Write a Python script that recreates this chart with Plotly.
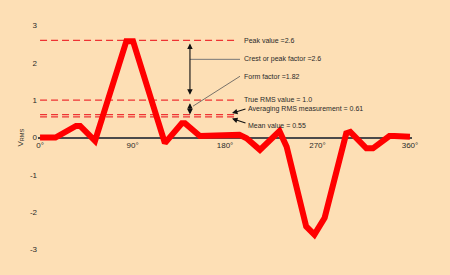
import plotly.graph_objects as go

# ---- data ----
angles = [0, 15, 35, 39, 53.5, 84, 90.5, 121.5, 138, 141, 155.5, 165, 194, 201,
          214, 233, 240, 259, 267, 277, 291.6, 298, 302, 317.6, 324, 340, 345, 350, 360]
volts = [0, 0, 0.31, 0.31, -0.09, 2.58, 2.58, -0.15, 0.38, 0.38, 0.04, 0.04, 0.07, -0.02,
         -0.33, 0.17, -0.25, -2.38, -2.6, -2.15, -0.6, 0.11, 0.15, -0.29, -0.29, 0.04, 0.04, 0.02, 0.02]

level_values = [2.6, 1.0, 0.61, 0.55]
level_names = ["Peak value", "True RMS value", "Averaging RMS measurement", "Mean value"]
crest_factor = 2.6
form_factor = 1.82

x_tickvals = [0, 90, 180, 270, 360]
x_ticktext = ["0°", "90°", "180°", "270°", "360°"]
y_tickvals = [-3, -2, -1, 0, 1, 2, 3]
y_ticktext = ["-3", "-2", "-1", "0", "1", "2", "3"]

BG = "#FDDFB5"
TXT = "#2a2a2a"
FONT = "Liberation Sans, Arial, sans-serif"
dash_end = 190.7
arrow_x = 145.9
label_x = 196.6
label_x2 = 200.5

fig = go.Figure()

# dashed reference levels
for v in level_values:
    fig.add_trace(go.Scatter(x=[0, dash_end], y=[v, v], mode="lines",
                             line=dict(color="#EE3333", width=1.3, dash="7px,4px"),
                             hoverinfo="skip", showlegend=False))

# waveform
fig.add_trace(go.Scatter(x=angles, y=volts, mode="lines",
                         line=dict(color="#FF0000", width=6),
                         showlegend=False))

ann = []
# double arrows
ann.append(dict(x=arrow_x, y=level_values[0], ax=arrow_x, ay=level_values[1],
                xref="x", yref="y", axref="x", ayref="y", text="", showarrow=True,
                arrowhead=2, arrowside="end+start", arrowsize=1, arrowwidth=1.1,
                arrowcolor="#111", standoff=3, startstandoff=4))
ann.append(dict(x=arrow_x, y=level_values[1], ax=arrow_x, ay=level_values[3],
                xref="x", yref="y", axref="x", ayref="y", text="", showarrow=True,
                arrowhead=2, arrowside="end+start", arrowsize=1, arrowwidth=1.1,
                arrowcolor="#111", standoff=3, startstandoff=1))
# pointer arrows
ann.append(dict(x=186.8, y=0.653, ax=201.4, ay=0.773,
                xref="x", yref="y", axref="x", ayref="y", text="", showarrow=True,
                arrowhead=2, arrowsize=1, arrowwidth=1.1, arrowcolor="#111"))
ann.append(dict(x=186.8, y=0.507, ax=201.4, ay=0.373,
                xref="x", yref="y", axref="x", ayref="y", text="", showarrow=True,
                arrowhead=2, arrowsize=1, arrowwidth=1.1, arrowcolor="#111"))

labels = [
    (label_x, 2.6, f"{level_names[0]} ={level_values[0]}"),
    (label_x, 2.093, f"Crest or peak factor ={crest_factor}"),
    (label_x, 1.64, f"Form factor ={form_factor}"),
    (label_x, 1.027, f"{level_names[1]} = {level_values[1]:.1f}"),
    (label_x2, 0.768, f"{level_names[2]} = {level_values[2]}"),
    (label_x2, 0.333, f"{level_names[3]} = {level_values[3]}"),
]
for x, y, t in labels:
    ann.append(dict(x=x, y=y, xref="x", yref="y", text=t, showarrow=False,
                    xanchor="left", yanchor="middle",
                    font=dict(family=FONT, size=7, color=TXT)))

# y axis title
ann.append(dict(x=-0.048, y=0.5, xref="paper", yref="paper",
                text="V<sub>RMS</sub>", showarrow=False, textangle=-90,
                xanchor="center", yanchor="middle",
                font=dict(family=FONT, size=8, color=TXT)))

shapes = [
    dict(type="line", xref="x", yref="y", x0=arrow_x, y0=2.093, x1=194.6, y1=2.093,
         line=dict(color="#777", width=1)),
    dict(type="line", xref="x", yref="y", x0=148.9, y0=0.84, x1=194.6, y1=1.64,
         line=dict(color="#555", width=0.8)),
]

fig.update_layout(
    width=450, height=275,
    margin=dict(l=38, r=38, t=17.5, b=17.5),
    paper_bgcolor=BG, plot_bgcolor=BG,
    annotations=ann, shapes=shapes,
    font=dict(family=FONT, size=8, color=TXT),
    xaxis=dict(range=[-2, 362], tickvals=x_tickvals, ticktext=x_ticktext,
               showgrid=False, zeroline=False, showline=True, linecolor="#4a4a4a",
               linewidth=1.5, anchor="free", position=0.5, ticks="",
               layer="below traces", tickfont=dict(size=8, color=TXT)),
    yaxis=dict(range=[-3.2, 3.2], tickvals=y_tickvals, ticktext=y_ticktext,
               showgrid=False, zeroline=False, showline=False, ticks="",
               tickfont=dict(size=8, color=TXT)),
)

fig.write_html("out.html")
